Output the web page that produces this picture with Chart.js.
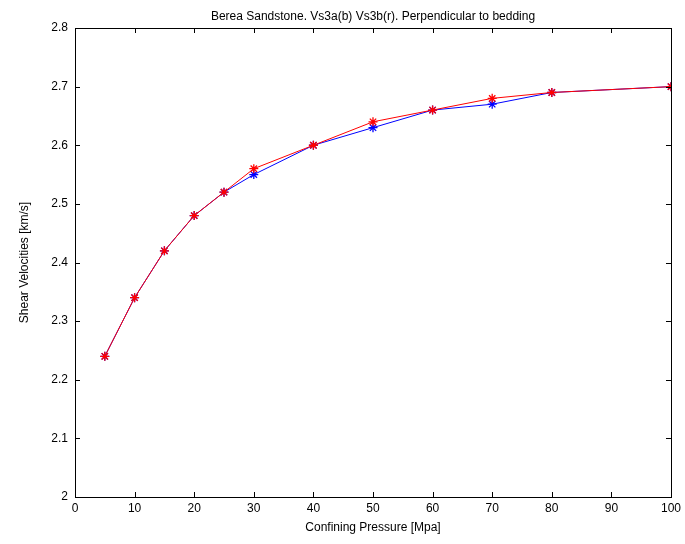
<!DOCTYPE html>
<html>
<head>
<meta charset="utf-8">
<script src="https://cdn.jsdelivr.net/npm/chart.js@4/dist/chart.umd.min.js"></script>
<style>
  html, body { margin: 0; padding: 0; background: #fff; }
  #wrap { width: 685px; height: 544px; }
</style>
</head>
<body>
<div id="wrap"><canvas id="c" width="685" height="544"></canvas></div>
<script>
// Confining pressure steps (MPa)
const pressure = [5, 10, 15, 20, 25, 30, 40, 50, 60, 70, 80, 100];
// Shear velocity, sample a (blue) and sample b (red), km/s
const vs3a = [2.24, 2.34, 2.42, 2.48, 2.52, 2.55, 2.60, 2.63, 2.66, 2.67, 2.69, 2.70];
const vs3b = [2.24, 2.34, 2.42, 2.48, 2.52, 2.56, 2.60, 2.64, 2.66, 2.68, 2.69, 2.70];

const xTicks = [0, 10, 20, 30, 40, 50, 60, 70, 80, 90, 100];
const yTicks = [2, 2.1, 2.2, 2.3, 2.4, 2.5, 2.6, 2.7, 2.8];

const titleText = 'Berea Sandstone. Vs3a(b) Vs3b(r). Perpendicular to bedding';
const xTitle = 'Confining Pressure [Mpa]';
const yTitle = 'Shear Velocities [km/s]';

const FONT = 'Helvetica, "Liberation Sans", Arial, sans-serif';

function toPoints(xs, ys) {
  return xs.map((x, i) => ({ x: x, y: ys[i] }));
}

// Axes box with inward ticks on all four sides, plus title and axis labels
const frame = {
  id: 'frame',
  afterDatasetsDraw(chart) {
    const { ctx, chartArea: a, scales } = chart;
    const tl = 5;
    ctx.save();
    ctx.strokeStyle = '#000';
    ctx.lineWidth = 1;
    ctx.beginPath();
    xTicks.forEach(v => {
      const px = Math.round(scales.x.getPixelForValue(v)) + 0.5;
      ctx.moveTo(px, a.bottom); ctx.lineTo(px, a.bottom - tl);
      ctx.moveTo(px, a.top); ctx.lineTo(px, a.top + tl);
    });
    yTicks.forEach(v => {
      const py = Math.round(scales.y.getPixelForValue(v)) + 0.5;
      ctx.moveTo(a.left, py); ctx.lineTo(a.left + tl, py);
      ctx.moveTo(a.right, py); ctx.lineTo(a.right - tl, py);
    });
    ctx.stroke();
    ctx.strokeRect(Math.round(a.left) + 0.5, Math.round(a.top) + 0.5,
                   Math.round(a.right - a.left), Math.round(a.bottom - a.top));

    ctx.fillStyle = '#000';
    ctx.font = '12px ' + FONT;
    ctx.textAlign = 'center';
    ctx.textBaseline = 'middle';
    ctx.fillText(titleText, (a.left + a.right) / 2, 17);
    ctx.fillText(xTitle, (a.left + a.right) / 2, 528);
    ctx.translate(25, (a.top + a.bottom) / 2);
    ctx.rotate(-Math.PI / 2);
    ctx.fillText(yTitle, 0, 0);
    ctx.restore();
  }
};

new Chart(document.getElementById('c'), {
  type: 'line',
  data: {
    datasets: [
      {
        label: 'Vs3a',
        data: toPoints(pressure, vs3a),
        order: 2,
        borderColor: '#0000ff',
        backgroundColor: '#0000ff',
        borderWidth: 1,
        pointStyle: 'star',
        pointRadius: 4.5,
        pointBorderWidth: 1.3,
        pointBorderColor: '#0000ff',
        tension: 0,
        fill: false
      },
      {
        label: 'Vs3b',
        data: toPoints(pressure, vs3b),
        order: 1,
        borderColor: '#ff0000',
        backgroundColor: '#ff0000',
        borderWidth: 1,
        pointStyle: 'star',
        pointRadius: 4.5,
        pointBorderWidth: 1.3,
        pointBorderColor: '#ff0000',
        tension: 0,
        fill: false
      }
    ]
  },
  options: {
    responsive: false,
    animation: false,
    devicePixelRatio: 1,
    layout: { padding: { top: 28, right: 13, left: 0, bottom: 0 } },
    plugins: {
      legend: { display: false },
      title: { display: false },
      tooltip: { enabled: false }
    },
    scales: {
      x: {
        type: 'linear',
        min: 0,
        max: 100,
        afterFit(s) { s.height = 47; },
        afterBuildTicks(s) { s.ticks = xTicks.map(v => ({ value: v })); },
        grid: { display: false, drawTicks: false },
        border: { display: false },
        ticks: {
          color: '#000',
          font: { family: FONT, size: 12 },
          padding: 4,
          maxRotation: 0,
          autoSkip: false,
          callback: v => String(v)
        }
      },
      y: {
        type: 'linear',
        min: 2,
        max: 2.8,
        afterFit(s) { s.width = 75; },
        afterBuildTicks(s) { s.ticks = yTicks.map(v => ({ value: v })); },
        grid: { display: false, drawTicks: false },
        border: { display: false },
        ticks: {
          color: '#000',
          font: { family: FONT, size: 12 },
          padding: 7,
          autoSkip: false,
          callback: v => String(Number(v.toFixed(1)))
        }
      }
    }
  },
  plugins: [frame]
});
</script>
</body>
</html>
